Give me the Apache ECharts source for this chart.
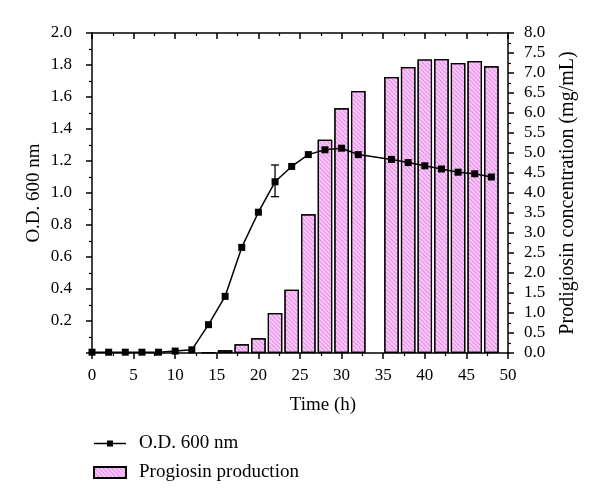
<!DOCTYPE html>
<html><head><meta charset="utf-8">
<script src="https://cdn.jsdelivr.net/npm/echarts@6/dist/echarts.min.js"></script>
<style>html,body{margin:0;padding:0;background:#fff}#c{width:600px;height:504px}</style>
</head><body><div id="c"></div>
<script>
var odTimes = [0,2,4,6,8,10,12,14,16,18,20,22,24,26,28,30,32,36,38,40,42,44,46,48];
var odValues = [0.005,0.005,0.005,0.005,0.005,0.012,0.02,0.177,0.354,0.66,0.88,1.07,1.166,1.24,1.27,1.28,1.24,1.21,1.19,1.17,1.15,1.13,1.12,1.10];
var barTimes = [14,16,18,20,22,24,26,28,30,32,36,38,40,42,44,46,48];
var barValues = [0.02,0.07,0.22,0.37,1.0,1.58,3.47,5.33,6.12,6.55,6.9,7.15,7.34,7.35,7.25,7.3,7.17];
var errTime = [22];
var errLow = [0.977];
var errHigh = [1.175];
var xLabel = 'Time (h)';
var yLeftLabel = 'O.D. 600 nm';
var yRightLabel = 'Prodigiosin concentration (mg/mL)';
var legendLine = 'O.D. 600 nm';
var legendBar = 'Progiosin production';

var FONT = 'Liberation Serif';
var chart = echarts.init(document.getElementById('c'));
var lineData = odTimes.map(function(t,i){return [t, odValues[i]];});
var barData = barTimes.map(function(t,i){return [t, barValues[i]];});
var errData = errTime.map(function(t,i){return [t, errLow[i], errHigh[i]];});
var axisLine = {show:true, onZero:false, lineStyle:{color:'#000', width:1.5}};
var tick = {show:true, inside:false, length:6, lineStyle:{color:'#000', width:1.5}};
var minor = {show:true, splitNumber:2, length:3, lineStyle:{color:'#000', width:1.2}};
var lineIcon = 'path://M0,0h0.01v0.01h-0.01z M0,11h0.01v0.01h-0.01z M0,4.8H13V2.5H19V4.8H32V6.2H19V8.5H13V6.2H0Z';
chart.setOption({
  animation:false,
  textStyle:{fontFamily:FONT},
  grid:{left:92, right:92, top:33, bottom:151},
  legend:{
    orient:'vertical', left:93, top:434, padding:0, itemGap:10, itemWidth:32, itemHeight:11,
    textStyle:{fontFamily:FONT, fontSize:19, color:'#000', padding:[0,0,0,8]},
    data:[{name:legendLine, icon:lineIcon}, {name:legendBar, icon:'rect'}]
  },
  xAxis:[{
    type:'value', min:0, max:50, interval:5, position:'bottom',
    name:xLabel, nameLocation:'middle', nameGap:43, nameMoveOverlap:false,
    nameTextStyle:{fontFamily:FONT, fontSize:19, color:'#000', padding:[0,0,0,46]},
    axisLine:axisLine, axisTick:tick, minorTick:minor,
    axisLabel:{fontFamily:FONT, fontSize:17, color:'#000', margin:14},
    splitLine:{show:false}
  },{
    type:'value', min:0, max:50, interval:5, position:'top',
    axisLine:axisLine,
    axisTick:{show:true, inside:true, length:6, lineStyle:{color:'#000', width:1.5}},
    minorTick:{show:true, splitNumber:2, length:3, lineStyle:{color:'#000', width:1.2}},
    axisLabel:{show:false}, splitLine:{show:false}
  }],
  yAxis:[{
    type:'value', min:0, max:2, interval:0.2, position:'left',
    name:yLeftLabel, nameLocation:'middle', nameGap:48, nameRotate:90, nameMoveOverlap:false,
    nameTextStyle:{fontFamily:FONT, fontSize:19, color:'#000'},
    axisLine:axisLine, axisTick:tick, minorTick:minor,
    axisLabel:{fontFamily:FONT, fontSize:17, color:'#000', margin:20,
      formatter:function(v){return v===0?'':v.toFixed(1);}},
    splitLine:{show:false}
  },{
    type:'value', min:0, max:8, interval:0.5, position:'right',
    name:yRightLabel, nameLocation:'middle', nameGap:50, nameRotate:90, nameMoveOverlap:false,
    nameTextStyle:{fontFamily:FONT, fontSize:20, color:'#000'},
    axisLine:axisLine, axisTick:tick, minorTick:minor,
    axisLabel:{fontFamily:FONT, fontSize:17, color:'#000', margin:16,
      formatter:function(v){return v.toFixed(1);}},
    splitLine:{show:false}
  }],
  series:[{
    name:legendBar, type:'bar', xAxisIndex:0, yAxisIndex:1, barWidth:14.5, z:2,
    data:barData,
    itemStyle:{color:'#f7c8f7', borderColor:'#000', borderWidth:1.2,
      decal:{symbol:'rect', dashArrayX:[1,0], dashArrayY:[1,2], rotation:Math.PI/4, color:'rgba(220,100,220,0.6)'}}
  },{
    name:legendLine, type:'line', xAxisIndex:0, yAxisIndex:0, z:3,
    data:lineData, symbol:'rect', symbolSize:7, showSymbol:true,
    lineStyle:{color:'#000', width:1.5}, itemStyle:{color:'#000'}
  },{
    type:'custom', xAxisIndex:0, yAxisIndex:0, z:4, data:errData,
    renderItem:function(params, api){
      var x = api.value(0);
      var lo = api.coord([x, api.value(1)]);
      var hi = api.coord([x, api.value(2)]);
      var w = 4;
      var st = {stroke:'#000', lineWidth:1.3};
      return {type:'group', children:[
        {type:'line', shape:{x1:lo[0],y1:lo[1],x2:hi[0],y2:hi[1]}, style:st},
        {type:'line', shape:{x1:lo[0]-w,y1:lo[1],x2:lo[0]+w,y2:lo[1]}, style:st},
        {type:'line', shape:{x1:hi[0]-w,y1:hi[1],x2:hi[0]+w,y2:hi[1]}, style:st}
      ]};
    }
  }]
});
</script></body></html>
